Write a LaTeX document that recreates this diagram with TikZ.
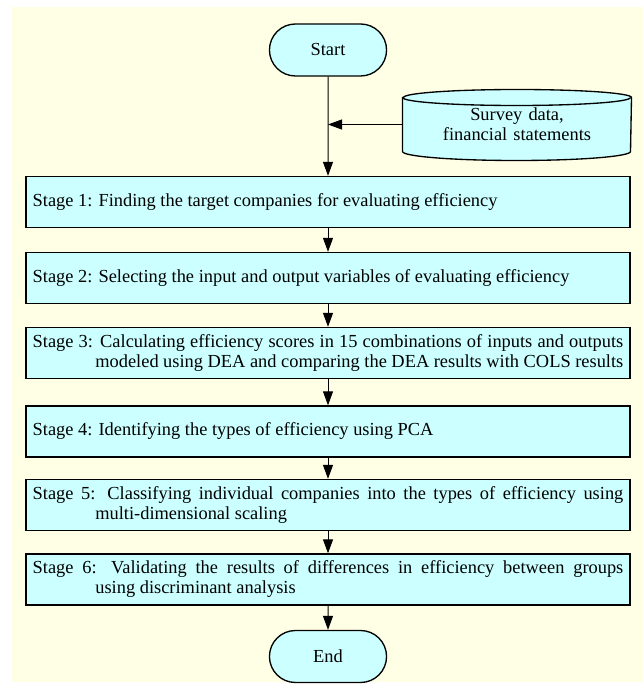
\documentclass[tikz,border=0pt]{standalone}
\usepackage{fontspec}
\setmainfont{Liberation Serif}
\usetikzlibrary{arrows.meta,shapes.misc,backgrounds}
\definecolor{boxcyan}{HTML}{CCFFFF}
\definecolor{paper}{HTML}{FFFFE5}

\begin{document}
\begin{tikzpicture}[x=0.75pt,y=-0.75pt,line width=0.75pt,
	font=\fontsize{13.8pt}{15pt}\selectfont,
	terminal/.style={draw,line width=1pt,fill=boxcyan,rounded rectangle,minimum width=94.5pt,minimum height=39pt},
	stage/.style={draw,line width=1pt,fill=boxcyan,text width=443pt,inner xsep=5pt,inner ysep=3pt,minimum height=38.25pt,align=justify},
	source/.style={text width=165pt,align=center,minimum width=171pt,minimum height=39.75pt,inner sep=0pt},
	flow/.style={-{Triangle[length=10.5pt,width=7.5pt]}}]
\newcommand{\hangline}{\linebreak\hspace*{47pt}}

\useasboundingbox (0,0) rectangle (643,691);

\node[terminal] (Start) at (328, 50) {Start};
\node[source]   (D)     at (517,124.5) {Survey data,\\financial statements};
\node[stage]    (S1)    at (328,202) {Stage 1: Finding the target companies for evaluating efficiency};
\node[stage]    (S2)    at (328,278) {Stage 2: Selecting the input and output variables of evaluating efficiency};
\node[stage]    (S3)    at (328,353) {Stage 3: Calculating efficiency scores in 15 combinations of inputs and outputs\hangline modeled using DEA and comparing the DEA results with COLS results};
\node[stage]    (S4)    at (328,431.5) {Stage 4: Identifying the types of efficiency using PCA};
\node[stage]    (S5)    at (328,505) {Stage 5: Classifying individual companies into the types of efficiency using\hangline multi-dimensional scaling};
\node[stage]    (S6)    at (328,579.5) {Stage 6: Validating the results of differences in efficiency between groups\hangline using discriminant analysis};
\node[terminal] (End)   at (328,656.5) {End};

\begin{scope}[on background layer]
\fill[paper] (12,7) rectangle (643,682);
% data store drawn round its text
\draw[line width=1pt,fill=boxcyan] (D.north west) -- (D.south west)
	arc[start angle=180,end angle=360,x radius=85.5pt,y radius=6.75pt] -- (D.north east)
	arc[start angle=0,end angle=180,x radius=85.5pt,y radius=6pt] -- cycle;
\draw[line width=1pt] (D.north west) arc[start angle=180,end angle=360,x radius=85.5pt,y radius=6pt];
\end{scope}

\coordinate (J) at (Start.south |- D.west);
\draw[flow] (Start)--(S1);
\draw[flow] (D.west)--(J);
\draw[flow] (S1)--(S2);
\draw[flow] (S2)--(S3);
\draw[flow] (S3)--(S4);
\draw[flow] (S4)--(S5);
\draw[flow] (S5)--(S6);
\draw[flow] (S6)--(End);
\end{tikzpicture}
\end{document}
